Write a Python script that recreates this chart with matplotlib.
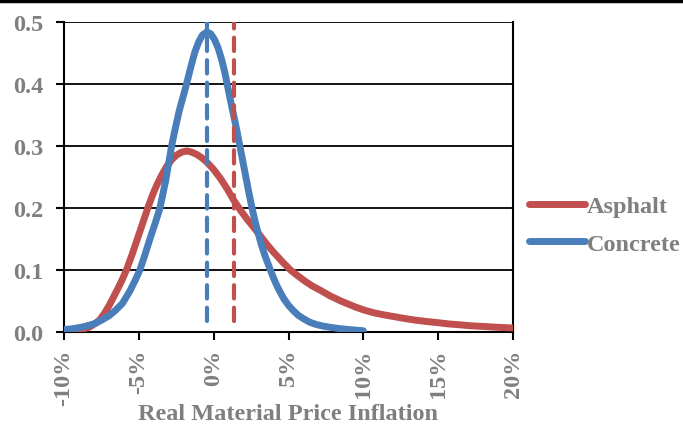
import matplotlib
matplotlib.use('Agg')
import matplotlib.pyplot as plt
from matplotlib.ticker import FuncFormatter
from matplotlib.lines import Line2D

# values (x in %, y density)
asphalt_x = [-10, -9.6, -9.2, -8.8, -8.3, -7.9, -7.6, -7.3, -7.0, -6.7, -6.4, -6.1, -5.83,
             -5.45, -5.1, -4.75, -4.4, -4.1, -3.8, -3.45, -3.14, -2.8, -2.5, -2.15, -1.8,
             -1.45, -1.1, -0.8, -0.46, 0.0, 0.44, 0.9, 1.33, 1.8, 2.23, 2.7, 3.12, 3.6,
             4.1, 4.6, 5.13, 5.6, 6.1, 6.6, 7.15, 7.8, 8.5, 9.0, 9.5, 10.1, 10.7, 11.3,
             12, 12.7, 13.5, 14.2, 15, 15.7, 16.5, 17.2, 18, 19, 20]
asphalt_y = [0.0, 0.0005, 0.002, 0.004, 0.008, 0.014, 0.02, 0.03, 0.042, 0.056, 0.07, 0.085, 0.1,
             0.125, 0.15, 0.175, 0.2, 0.22, 0.237, 0.254, 0.267, 0.278, 0.285, 0.29, 0.292,
             0.29, 0.286, 0.281, 0.274, 0.262, 0.248, 0.231, 0.213, 0.196, 0.182, 0.168, 0.155, 0.14,
             0.126, 0.113, 0.1, 0.091, 0.082, 0.074, 0.067, 0.058, 0.05, 0.045, 0.04, 0.035, 0.031, 0.028,
             0.025, 0.022, 0.019, 0.017, 0.015, 0.013, 0.0115, 0.010, 0.009, 0.0075, 0.0065]

concrete_x = [-10, -9.5, -9, -8.6, -8.3, -7.9, -7.5, -7.0, -6.6, -6.1, -5.6, -5.25, -4.93,
              -4.6, -4.26, -3.9, -3.59, -3.2, -2.81, -2.55, -2.3, -2.0, -1.76, -1.5, -1.25,
              -1.0, -0.75, -0.46, -0.2, 0.05, 0.3, 0.55, 0.75, 0.9, 1.1, 1.33, 1.55, 1.75,
              1.95, 2.15, 2.35, 2.56, 2.8, 3.0, 3.2, 3.4, 3.6, 3.79, 4.0, 4.2, 4.45, 4.68,
              5.0, 5.3, 5.65, 6.03, 6.4, 6.8, 7.3, 7.8, 8.4, 9.0, 9.5, 10.0]
concrete_y = [0.004, 0.005, 0.007, 0.009, 0.011, 0.014, 0.019, 0.026, 0.034, 0.046, 0.066, 0.083, 0.1,
              0.124, 0.15, 0.176, 0.2, 0.245, 0.3, 0.33, 0.357, 0.383, 0.405, 0.43, 0.452,
              0.468, 0.479, 0.484, 0.481, 0.472, 0.458, 0.438, 0.418, 0.4, 0.376, 0.35, 0.325, 0.3,
              0.275, 0.25, 0.225, 0.2, 0.175, 0.157, 0.14, 0.125, 0.112, 0.1, 0.087, 0.076, 0.064, 0.054,
              0.043, 0.035, 0.027, 0.021, 0.016, 0.0125, 0.0095, 0.0075, 0.0055, 0.004, 0.003, 0.002]

asphalt_mean = 1.33
concrete_mean = -0.46
mean_line_bottom = 0.018

x_ticks = [-10, -5, 0, 5, 10, 15, 20]
y_ticks = [0.0, 0.1, 0.2, 0.3, 0.4, 0.5]

red = '#C0504D'
blue = '#4A7EBB'
gray = '#7F7F7F'
fs = 17.5

plt.rcParams['font.family'] = ['Liberation Serif', 'DejaVu Serif']
plt.rcParams['font.weight'] = 'bold'

fig = plt.figure(figsize=(6.83, 4.27), dpi=100)
ax = fig.add_axes([64/683, 1-333/427, (513-64)/683, (333-23)/427])

# black bar across the top of the picture
fig.add_artist(Line2D([0, 1], [1 - 2/427, 1 - 2/427], transform=fig.transFigure,
                      color='black', lw=3.2))

for v in y_ticks[1:]:
    ax.axhline(v, color='black', lw=1.3, zorder=1)

ax.plot(asphalt_x, asphalt_y, color=red, lw=5, solid_capstyle='round',
        solid_joinstyle='round', label='Asphalt', zorder=3)
ax.plot(concrete_x, concrete_y, color=blue, lw=5, solid_capstyle='round',
        solid_joinstyle='round', label='Concrete', zorder=4)

ax.plot([asphalt_mean, asphalt_mean], [mean_line_bottom, 0.5], color=red, lw=3,
        dashes=(3.2, 2.2), dash_capstyle='round', zorder=5)
ax.plot([concrete_mean, concrete_mean], [mean_line_bottom, 0.5], color=blue, lw=3,
        dashes=(3.2, 2.2), dash_capstyle='round', zorder=5)

ax.set_xlim(-10, 20)
ax.set_ylim(0, 0.5)
ax.set_xticks(x_ticks)
ax.set_yticks(y_ticks)
ax.xaxis.set_major_formatter(FuncFormatter(lambda v, p: f'{v:.0f}%'))
ax.yaxis.set_major_formatter(FuncFormatter(lambda v, p: f'{v:.1f}'))
ax.tick_params(axis='both', direction='out', length=6, width=1.5, colors='black',
               labelcolor=gray, labelsize=fs)
ax.tick_params(axis='y', pad=9)
ax.tick_params(axis='x', pad=6)
for lab in ax.get_xticklabels():
    lab.set_rotation(90)
    lab.set_fontweight('bold')
for lab in ax.get_yticklabels():
    lab.set_fontweight('bold')

for s in ax.spines.values():
    s.set_linewidth(1.5)
    s.set_color('black')
ax.spines['top'].set_visible(False)

fig.text(288.5/683, 1-415/427, 'Real Material Price Inflation', color=gray, fontsize=fs,
         fontweight='bold', ha='center', va='center')

leg = fig.legend(loc='upper left', bbox_to_anchor=(517/683, 1-184/427), frameon=False,
                 borderpad=0, handlelength=2.3, handletextpad=0.06, labelspacing=0.65,
                 prop={'size': fs, 'weight': 'bold'})
for t in leg.get_texts():
    t.set_color(gray)

fig.savefig('out.png', dpi=100)
